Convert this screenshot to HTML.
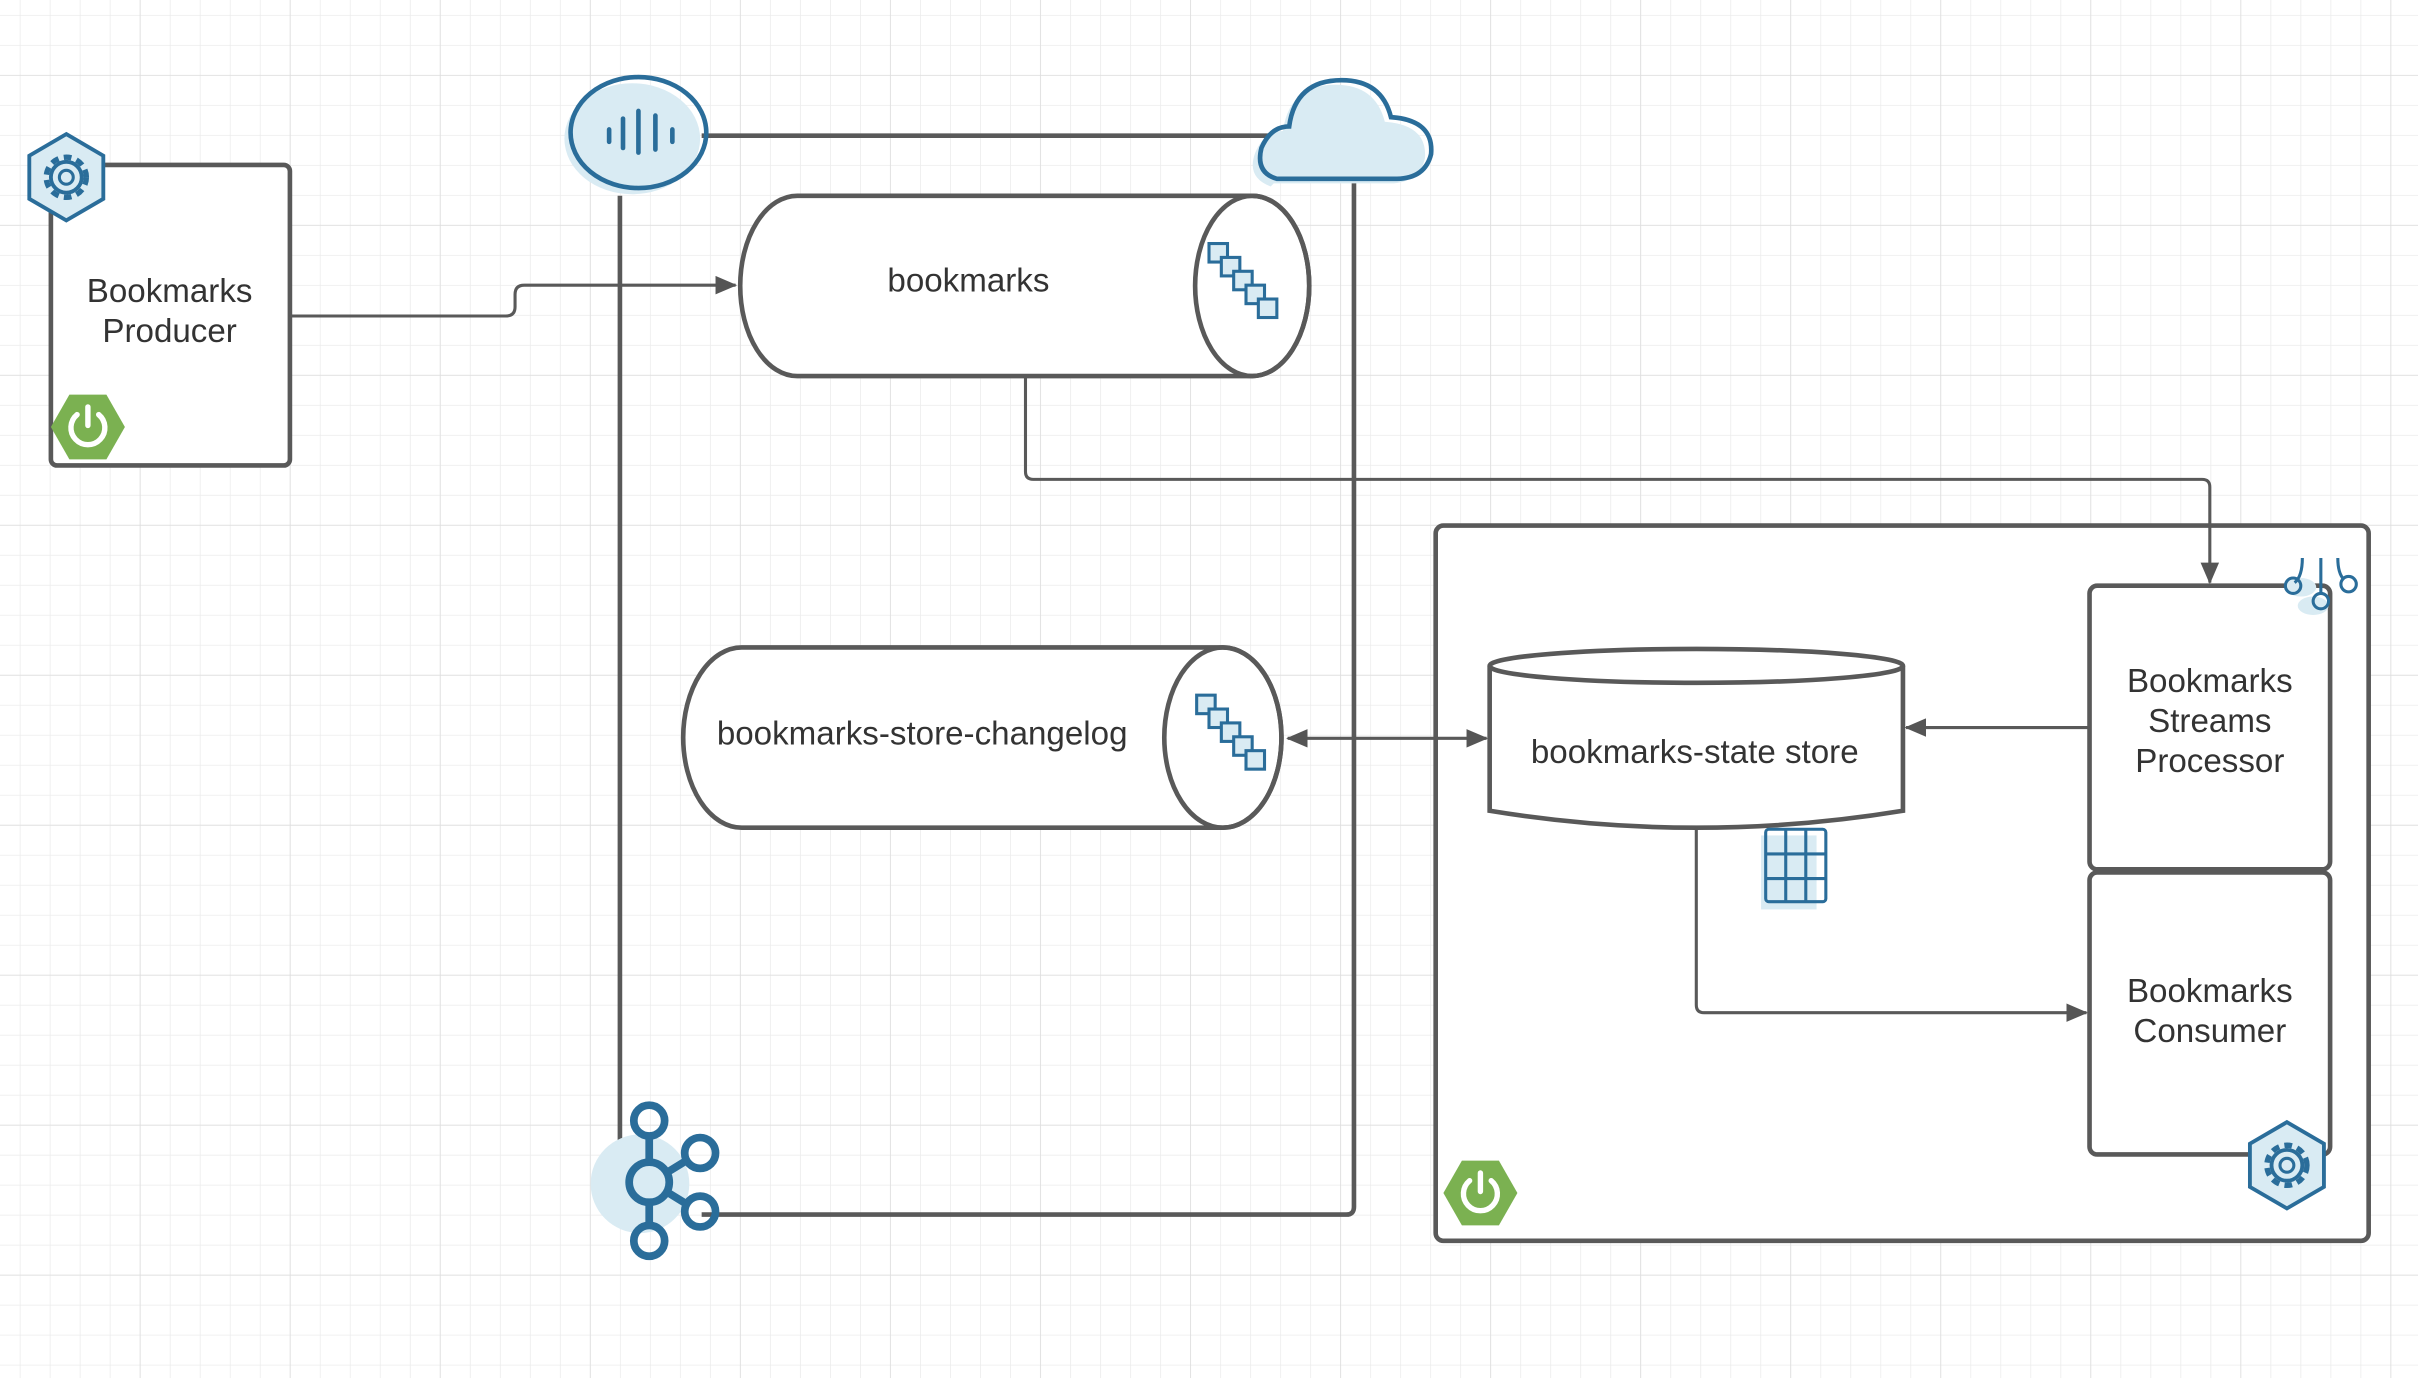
<!DOCTYPE html>
<html><head><meta charset="utf-8"><style>
html,body{margin:0;padding:0;background:#fff;overflow:hidden}
svg{display:block}
text{font-family:"Liberation Sans",sans-serif;fill:#333;font-size:21.5px;text-anchor:middle}
</style></head><body>
<svg width="2418" height="1378" viewBox="0 0 1568 894" preserveAspectRatio="none" xmlns="http://www.w3.org/2000/svg">
<defs>
<pattern id="minor" x="12.8" y="9.7" width="19.46" height="19.46" patternUnits="userSpaceOnUse">
<path d="M0 0V19.46M0 0H19.46" stroke="#ececec" stroke-width="1" fill="none"/>
</pattern>
<pattern id="major" x="90.6" y="48.6" width="97.3" height="97.3" patternUnits="userSpaceOnUse">
<path d="M0 0V97.3M0 0H97.3" stroke="#dedede" stroke-width="1" fill="none"/>
</pattern>
<marker id="ah" markerWidth="14" markerHeight="12" refX="13" refY="6" orient="auto" markerUnits="userSpaceOnUse">
<path d="M0 0L14 6L0 12z" fill="#555"/>
</marker>
<marker id="ahs" markerWidth="14" markerHeight="12" refX="1" refY="6" orient="auto" markerUnits="userSpaceOnUse">
<path d="M14 0L0 6L14 12z" fill="#555"/>
</marker>
<g id="gear">
<polygon points="0,-28 24,-14 24,14 0,28 -24,14 -24,-14" fill="#d9ebf3" stroke="#2a6d9a" stroke-width="2.5"/>
<circle r="13" fill="none" stroke="#2a6d9a" stroke-width="3.5" stroke-dasharray="5 3.5"/>
<circle r="10" fill="none" stroke="#2a6d9a" stroke-width="2.5"/>
<circle r="4.5" fill="none" stroke="#2a6d9a" stroke-width="2"/>
</g>
<g id="spring">
<polygon points="-12,-21 12,-21 24,0 12,21 -12,21 -24,0" fill="#7bb151"/>
<path d="M-7,-8 A11 11 0 1 0 7,-8" fill="none" stroke="#fff" stroke-width="3.5" stroke-linecap="round"/>
<line x1="0" y1="-13" x2="0" y2="-1" stroke="#fff" stroke-width="3.5" stroke-linecap="round"/>
</g>
<g id="parts" fill="#d9ebf3" stroke="#2a6d9a" stroke-width="2">
<rect x="0" y="0" width="12" height="12"/><rect x="8" y="9" width="12" height="12"/>
<rect x="16" y="18" width="12" height="12"/><rect x="24" y="27" width="12" height="12"/>
<rect x="32" y="36" width="12" height="12"/>
</g>
</defs>
<rect width="1568" height="894" fill="#fff"/>
<rect width="1568" height="894" fill="url(#minor)"/>
<rect width="1568" height="894" fill="url(#major)"/>

<g fill="none" stroke="#595959" stroke-width="3">
<rect x="33" y="107" width="155" height="195" rx="4" fill="#fff"/>
<path d="M455 88H878V783Q878 788 873 788H455"/>
<path d="M402 127V740"/>
<rect x="931" y="341" width="605" height="464" rx="5" fill="#fff"/>
<rect x="1355" y="380" width="156" height="184" rx="5" fill="#fff"/>
<rect x="1355" y="566" width="156" height="183" rx="5" fill="#fff"/>
<path d="M517 127H812A37 58.5 0 0 1 812 244H517A37 58.5 0 0 1 517 127Z" fill="#fff"/>
<ellipse cx="812" cy="185.5" rx="37" ry="58.5"/>
<path d="M481 420H793A38 58.5 0 0 1 793 537H481A38 58.5 0 0 1 481 420Z" fill="#fff"/>
<ellipse cx="793" cy="478.5" rx="38" ry="58.5"/>
<path d="M966 432V526Q1100 548 1234 526V432" fill="#fff"/>
<ellipse cx="1100" cy="432" rx="134" ry="11" fill="#fff"/>
</g>

<g fill="none" stroke="#595959" stroke-width="2">
<path d="M188 205H328Q334 205 334 199V191Q334 185 340 185H477" marker-end="url(#ah)"/>
<path d="M665 244V306Q665 311 670 311H1428Q1433 311 1433 316V378" marker-end="url(#ah)"/>
<path d="M835 479H964" marker-start="url(#ahs)" marker-end="url(#ah)"/>
<path d="M1355 472H1236" marker-end="url(#ah)"/>
<path d="M1100 537V652Q1100 657 1105 657H1353" marker-end="url(#ah)"/>
</g>

<text x="110" y="196">Bookmarks</text>
<text x="110" y="222">Producer</text>
<text x="628" y="189">bookmarks</text>
<text x="598" y="483">bookmarks-store-changelog</text>
<text x="1099" y="495">bookmarks-state store</text>
<text x="1433" y="449">Bookmarks</text>
<text x="1433" y="475">Streams</text>
<text x="1433" y="501">Processor</text>
<text x="1433" y="650">Bookmarks</text>
<text x="1433" y="676">Consumer</text>

<use href="#gear" x="43" y="115"/>
<use href="#spring" x="57" y="277"/>
<use href="#gear" x="1483" y="756"/>
<use href="#spring" x="960" y="774"/>
<use href="#parts" x="784" y="158"/>
<use href="#parts" x="776" y="451"/>

<ellipse cx="410" cy="90" rx="44" ry="36" fill="#d9ebf3"/>
<ellipse cx="414" cy="86" rx="44" ry="36" fill="none" stroke="#2a6d9a" stroke-width="3"/>
<g stroke="#2a6d9a" stroke-width="3" stroke-linecap="round">
<line x1="395" y1="84" x2="395" y2="92"/><line x1="404" y1="77" x2="404" y2="96"/>
<line x1="414" y1="72" x2="414" y2="99"/><line x1="425" y1="75" x2="425" y2="97"/>
<line x1="436" y1="84" x2="436" y2="92"/>
</g>

<path d="M828 118Q812 112 818 96Q824 82 836 82Q840 52 870 52Q896 52 902 76Q930 78 928 100Q924 116 905 116H830Z" fill="#d9ebf3" stroke="none" transform="translate(-4 3)"/>
<path d="M828 116Q814 112 818 96Q824 82 836 82Q840 52 870 52Q896 52 902 76Q930 78 928 100Q924 116 905 116Z" fill="#fff" fill-opacity="0" stroke="#2a6d9a" stroke-width="3"/>

<circle cx="415" cy="768" r="32" fill="#d9ebf3"/>
<g fill="none" stroke="#2a6d9a" stroke-width="5">
<circle cx="421" cy="727" r="10"/><circle cx="421" cy="767" r="13"/><circle cx="421" cy="805" r="10"/>
<circle cx="454" cy="748" r="10"/><circle cx="454" cy="786" r="10"/>
<path d="M421 737V754M421 780V795M432 761L445 753M432 773L445 781"/>
</g>

<rect x="1142" y="542" width="36" height="48" fill="#d9ebf3"/>
<g fill="none" stroke="#2a6d9a" stroke-width="2">
<rect x="1145" y="538" width="39" height="47" rx="2"/>
<path d="M1158 538V585M1171 538V585M1145 554H1184M1145 570H1184"/>
</g>

<g fill="none" stroke="#2a6d9a" stroke-width="2">
<ellipse cx="1492" cy="381" rx="10" ry="6" fill="#d9ebf3" stroke="none"/>
<ellipse cx="1500" cy="393" rx="10" ry="6" fill="#d9ebf3" stroke="none"/>
<path d="M1493 362Q1493 374 1488 378M1505 362V385M1516 362Q1516 372 1520 376"/>
<circle cx="1487" cy="380" r="5"/><circle cx="1505" cy="390" r="5"/><circle cx="1523" cy="379" r="5"/>
</g>
</svg>
</body></html>
